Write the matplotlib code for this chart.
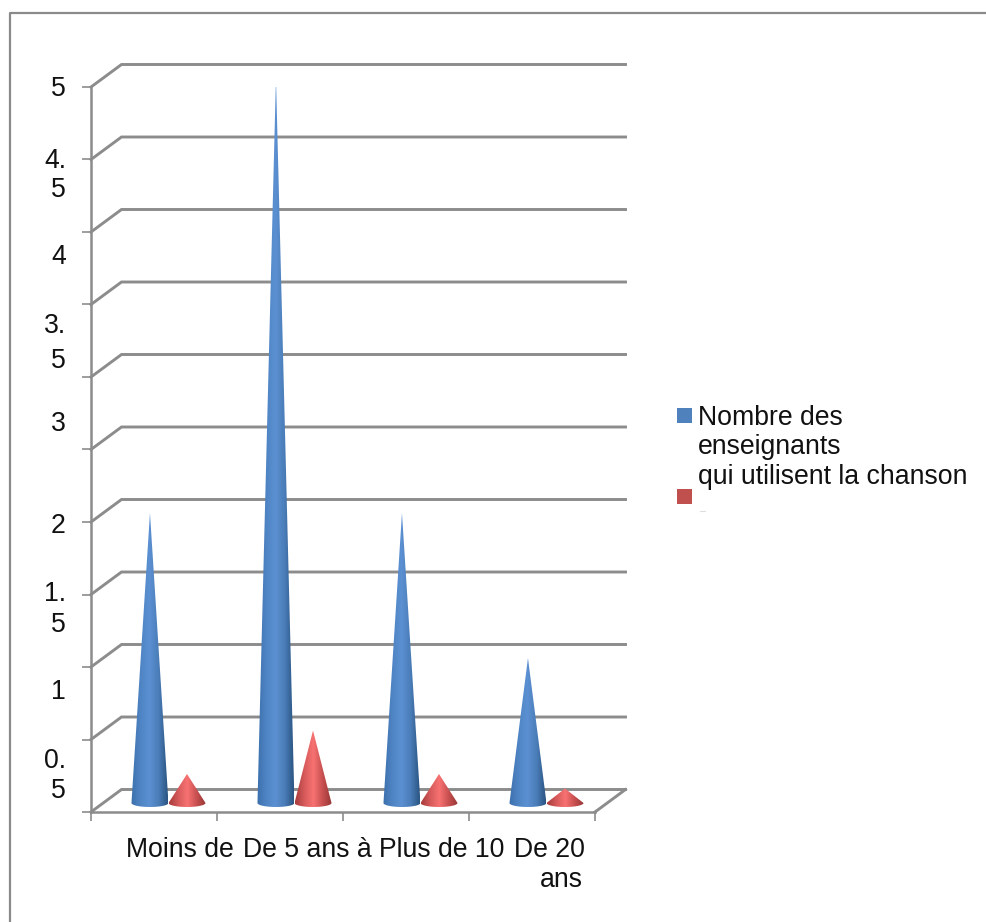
import numpy as np
import matplotlib
matplotlib.use("Agg")
import matplotlib.pyplot as plt
from matplotlib.colors import LinearSegmentedColormap
from matplotlib.lines import Line2D
from matplotlib.patches import PathPatch, Rectangle
from matplotlib.path import Path

plt.rcParams["font.family"] = ["Liberation Sans", "DejaVu Sans"]

# Data
categories = ["Moins de", "De 5 ans à", "Plus de 10", "De 20"]
blue_values = [2, 5, 2, 1]
red_values = [0.2, 0.5, 0.2, 0.1]
y_ticks = [0, 0.5, 1, 1.5, 2, 2.5, 3, 3.5, 4, 4.5, 5]
y_rows = ["5", "4.", "5", "4", "3.", "5", "3", "2", "1.", "5", "1", "0.", "5", "5"]
legend_label = "Nombre des\nenseignants\nqui utilisent la chanson"

# Layout, in pixels of the 987x922 picture
W, H = 987, 922
LEFT, RIGHT, TOP, BOTTOM = 91, 595, 87, 812
DEPTH_X, DEPTH_Y = 30.5, 22.5
BASE_LIFT = 9
CONE_R = 18.5
ROW_Y = [88, 160, 189, 256, 325, 360, 423, 525, 593, 624, 691, 760, 790]
ROW_X = 66
LABEL_X = [180, 307, 442, 549]
GREY = "#8c8c8c"
INK = "#111111"
FONT = 19.2

fig = plt.figure(figsize=(W / 100, H / 100), dpi=100)
ax = fig.add_axes([LEFT / W, 1 - BOTTOM / H, (RIGHT - LEFT) / W, (BOTTOM - TOP) / H])
ax.set_xlim(0, 4)
ax.set_ylim(0, 5)
px = 4 / (RIGHT - LEFT)
py = 5 / (BOTTOM - TOP)
dx, dy = DEPTH_X * px, DEPTH_Y * py

for s in ["top", "right"]:
    ax.spines[s].set_visible(False)
for s in ["left", "bottom"]:
    ax.spines[s].set_color(GREY)
    ax.spines[s].set_linewidth(1.8)
ax.set_xticks(range(5))
ax.set_yticks(y_ticks)
ax.set_xticklabels([])
ax.set_yticklabels([])
ax.tick_params(color=GREY, width=1.2, length=6.5)

# Back wall gridlines, floor and the slanted ends
for v in y_ticks:
    ax.plot([0, dx, 4 + dx], [v, v + dy, v + dy], color=GREY, lw=2.1, clip_on=False, zorder=1,
            solid_joinstyle="miter")
ax.plot([4, 4 + dx], [0, dy], color=GREY, lw=2.1, clip_on=False, zorder=1)

blue_cmap = LinearSegmentedColormap.from_list("b", ["#3c70ac", "#4f84c4", "#5b90d2", "#4a7db8", "#2b5582"])
red_cmap = LinearSegmentedColormap.from_list("r", ["#a83c3c", "#d65a5a", "#f87272", "#c85050", "#973636"])
gradient = np.linspace(0, 1, 128).reshape(1, -1)


def cone(x, value, cmap):
    # cone with a curved foot, gradient clipped to its outline
    r = CONE_R * px
    lift = BASE_LIFT * py
    foot = 4 * py
    t = np.linspace(np.pi, 2 * np.pi, 30)
    xs = x + r * np.cos(t)
    ys = lift + foot * np.sin(t)
    verts = [(x, lift + value)] + list(zip(xs, ys)) + [(x, lift + value)]
    patch = PathPatch(Path(verts), fc="none", ec="none", transform=ax.transData)
    ax.add_patch(patch)
    im = ax.imshow(gradient, extent=[x - r, x + r, lift - foot, lift + value], cmap=cmap,
                   aspect="auto", zorder=3, interpolation="bilinear")
    im.set_clip_path(patch)
    patch.set_zorder(3)


for i in range(len(categories)):
    cone(i + 0.468, blue_values[i], blue_cmap)
    cone(i + 0.762, red_values[i], red_cmap)
ax.set_xlim(0, 4)
ax.set_ylim(0, 5)

# Category labels run into one another in the original
for name, x in zip(categories, LABEL_X):
    fig.text(x / W, 1 - 850 / H, name, ha="center", va="center", fontsize=FONT, color=INK)
fig.text(583 / W, 1 - 880 / H, "ans", ha="right", va="center", fontsize=FONT, color=INK)

# Y labels wrap and drift away from their ticks
for row, y in zip(y_rows, ROW_Y):
    fig.text(ROW_X / W, 1 - (y + 1) / H, row, ha="right", va="center", fontsize=FONT, color=INK)

# Legend
fig.add_artist(Rectangle((677 / W, 1 - 423 / H), 15 / W, 15 / H, transform=fig.transFigure,
                         fc="#4f81bd", ec="none"))
fig.add_artist(Rectangle((677 / W, 1 - 504 / H), 15 / W, 15 / H, transform=fig.transFigure,
                         fc="#c0504d", ec="none"))
for line, y in zip(legend_label.split("\n"), [418, 447, 477]):
    fig.text(698 / W, 1 - y / H, line, ha="left", va="center", fontsize=FONT, color=INK)
fig.add_artist(Line2D([700 / W, 705 / W], [1 - 511 / H] * 2, color="#dddddd", lw=0.8))

# Outer frame: only the top and left edges show
fig.add_artist(Line2D([9.5 / W, 9.5 / W, 1], [0, 1 - 13 / H, 1 - 13 / H],
                      color="#8a8a8a", lw=1.6))

fig.savefig("out.png", dpi=100)
